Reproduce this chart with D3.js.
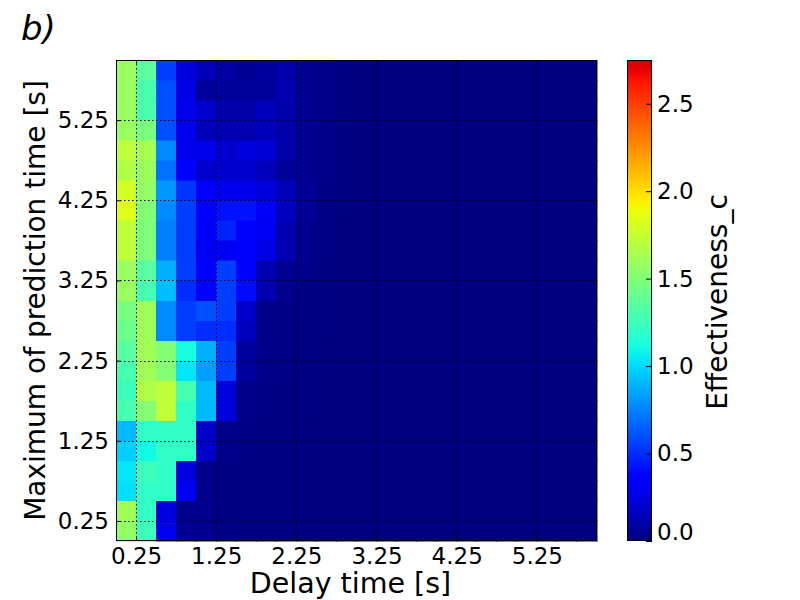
<!DOCTYPE html>
<html>
<head>
<meta charset="utf-8">
<script src="https://cdn.jsdelivr.net/npm/d3@7"></script>
<style>
  html, body { margin: 0; padding: 0; background: #fff; }
  svg { display: block; font-family: "DejaVu Sans", sans-serif; }
</style>
</head>
<body>
<svg id="chart" width="800" height="600"></svg>
<script>
// ---- data ----
const delayTimes = [0.00,0.25,0.50,0.75,1.00,1.25,1.50,1.75,2.00,2.25,2.50,2.75,3.00,3.25,3.50,3.75,4.00,4.25,4.50,4.75,5.00,5.25,5.50,5.75];
const predTimes  = [0.00,0.25,0.50,0.75,1.00,1.25,1.50,1.75,2.00,2.25,2.50,2.75,3.00,3.25,3.50,3.75,4.00,4.25,4.50,4.75,5.00,5.25,5.50,5.75];
const xTickValues = [0.25,1.25,2.25,3.25,4.25,5.25];
const yTickValues = [0.25,1.25,2.25,3.25,4.25,5.25];
const cbarTickValues = [0.0,0.5,1.0,1.5,2.0,2.5];

// Effectiveness_c, one array per prediction-time bin (bottom to top), one value per delay-time bin
const pred_0_00 = [1.56,1.26,0.29,0.05,0.04,0.02,0.01,0.01,0.01,0.00,0.00,0.00,0.00,0.00,0.00,0.00,0.00,0.00,0.00,0.00,0.00,0.00,0.00,0.00];
const pred_0_25 = [1.61,1.21,0.24,0.03,0.04,0.02,0.01,0.01,0.01,0.00,0.00,0.00,0.00,0.00,0.00,0.00,0.00,0.00,0.00,0.00,0.00,0.00,0.00,0.00];
const pred_0_50 = [1.02,1.21,1.21,0.29,0.03,0.02,0.01,0.01,0.01,0.00,0.00,0.00,0.00,0.00,0.00,0.00,0.00,0.00,0.00,0.00,0.00,0.00,0.00,0.00];
const pred_0_75 = [1.04,1.26,1.21,0.24,0.03,0.02,0.01,0.01,0.01,0.00,0.00,0.00,0.00,0.00,0.00,0.00,0.00,0.00,0.00,0.00,0.00,0.00,0.00,0.00];
const pred_1_00 = [0.97,1.10,1.21,1.21,0.19,0.03,0.02,0.01,0.01,0.00,0.00,0.00,0.00,0.00,0.00,0.00,0.00,0.00,0.00,0.00,0.00,0.00,0.00,0.00];
const pred_1_25 = [0.91,1.21,1.21,1.21,0.19,0.03,0.02,0.01,0.01,0.00,0.00,0.00,0.00,0.00,0.00,0.00,0.00,0.00,0.00,0.00,0.00,0.00,0.00,0.00];
const pred_1_50 = [1.29,1.51,1.72,1.21,0.91,0.24,0.03,0.02,0.01,0.01,0.00,0.00,0.00,0.00,0.00,0.00,0.00,0.00,0.00,0.00,0.00,0.00,0.00,0.00];
const pred_1_75 = [1.24,1.67,1.72,1.29,0.91,0.24,0.03,0.02,0.01,0.01,0.00,0.00,0.00,0.00,0.00,0.00,0.00,0.00,0.00,0.00,0.00,0.00,0.00,0.00];
const pred_2_00 = [1.29,1.61,1.51,1.04,0.83,0.55,0.08,0.03,0.02,0.01,0.00,0.00,0.00,0.00,0.00,0.00,0.00,0.00,0.00,0.00,0.00,0.00,0.00,0.00];
const pred_2_25 = [1.35,1.61,1.51,1.12,0.88,0.55,0.08,0.03,0.02,0.01,0.00,0.00,0.00,0.00,0.00,0.00,0.00,0.00,0.00,0.00,0.00,0.00,0.00,0.00];
const pred_2_50 = [1.42,1.61,0.77,0.55,0.50,0.50,0.16,0.03,0.02,0.01,0.01,0.00,0.00,0.00,0.00,0.00,0.00,0.00,0.00,0.00,0.00,0.00,0.00,0.00];
const pred_2_75 = [1.47,1.61,0.77,0.55,0.60,0.55,0.19,0.03,0.02,0.02,0.01,0.00,0.00,0.00,0.00,0.00,0.00,0.00,0.00,0.00,0.00,0.00,0.00,0.00];
const pred_3_00 = [1.59,1.29,0.92,0.50,0.34,0.55,0.40,0.13,0.04,0.02,0.01,0.00,0.00,0.00,0.00,0.00,0.00,0.00,0.00,0.00,0.00,0.00,0.00,0.00];
const pred_3_25 = [1.59,1.35,0.88,0.55,0.34,0.55,0.36,0.13,0.05,0.03,0.01,0.00,0.00,0.00,0.00,0.00,0.00,0.00,0.00,0.00,0.00,0.00,0.00,0.00];
const pred_3_50 = [1.72,1.49,0.74,0.55,0.30,0.30,0.36,0.26,0.13,0.04,0.02,0.00,0.00,0.00,0.00,0.00,0.00,0.00,0.00,0.00,0.00,0.00,0.00,0.00];
const pred_3_75 = [1.72,1.49,0.74,0.55,0.36,0.47,0.36,0.30,0.13,0.04,0.02,0.00,0.00,0.00,0.00,0.00,0.00,0.00,0.00,0.00,0.00,0.00,0.00,0.00];
const pred_4_00 = [1.83,1.51,0.77,0.55,0.36,0.42,0.42,0.32,0.16,0.06,0.02,0.01,0.00,0.00,0.00,0.00,0.00,0.00,0.00,0.00,0.00,0.00,0.00,0.00];
const pred_4_25 = [1.80,1.56,0.81,0.52,0.36,0.28,0.28,0.24,0.15,0.06,0.02,0.01,0.00,0.00,0.00,0.00,0.00,0.00,0.00,0.00,0.00,0.00,0.00,0.00];
const pred_4_50 = [1.67,1.59,0.70,0.34,0.20,0.20,0.20,0.15,0.07,0.05,0.03,0.01,0.00,0.00,0.00,0.00,0.00,0.00,0.00,0.00,0.00,0.00,0.00,0.00];
const pred_4_75 = [1.72,1.64,0.77,0.28,0.28,0.20,0.24,0.22,0.11,0.05,0.03,0.01,0.00,0.00,0.00,0.00,0.00,0.00,0.00,0.00,0.00,0.00,0.00,0.00];
const pred_5_00 = [1.59,1.47,0.60,0.28,0.15,0.13,0.13,0.15,0.11,0.05,0.03,0.01,0.00,0.00,0.00,0.00,0.00,0.00,0.00,0.00,0.00,0.00,0.00,0.00];
const pred_5_25 = [1.59,1.30,0.60,0.28,0.20,0.11,0.11,0.15,0.11,0.05,0.03,0.01,0.00,0.00,0.00,0.00,0.00,0.00,0.00,0.00,0.00,0.00,0.00,0.00];
const pred_5_50 = [1.59,1.30,0.60,0.26,0.07,0.07,0.07,0.07,0.13,0.05,0.03,0.01,0.00,0.00,0.00,0.00,0.00,0.00,0.00,0.00,0.00,0.00,0.00,0.00];
const pred_5_75 = [1.59,1.36,0.55,0.24,0.15,0.09,0.06,0.08,0.11,0.05,0.03,0.01,0.00,0.00,0.00,0.00,0.00,0.00,0.00,0.00,0.00,0.00,0.00,0.00];

const effectivenessRows = [pred_0_00,pred_0_25,pred_0_50,pred_0_75,pred_1_00,pred_1_25,pred_1_50,pred_1_75,
  pred_2_00,pred_2_25,pred_2_50,pred_2_75,pred_3_00,pred_3_25,pred_3_50,pred_3_75,
  pred_4_00,pred_4_25,pred_4_50,pred_4_75,pred_5_00,pred_5_25,pred_5_50,pred_5_75];

const binWidth = 0.25;
const colorNormMax = 2.96;   // norm max of the colour map
const colorbarMax = 2.75;    // visible top of the colour bar

// ---- jet colour map ----
function seg(t, pts) {
  for (let i = 1; i < pts.length; i++) {
    if (t <= pts[i][0]) {
      const [t0, v0] = pts[i-1], [t1, v1] = pts[i];
      return v0 + (v1 - v0) * (t - t0) / (t1 - t0);
    }
  }
  return pts[pts.length-1][1];
}
const R = [[0,0],[0.35,0],[0.66,1],[0.89,1],[1,0.5]];
const G = [[0,0],[0.125,0],[0.375,1],[0.64,1],[0.91,0],[1,0]];
const B = [[0,0.5],[0.11,1],[0.34,1],[0.65,0],[1,0]];
function jet(t) {
  t = Math.max(0, Math.min(1, t));
  return d3.rgb(255*seg(t,R), 255*seg(t,G), 255*seg(t,B)).formatHex();
}
const color = v => jet(v / colorNormMax);

// ---- layout ----
const svg = d3.select("#chart");
const plotL = 116, plotR = 597, plotT = 60, plotB = 541;
const tickFont = 23;
const x = d3.scaleLinear().domain([0, 6]).range([plotL, plotR]);
const y = d3.scaleLinear().domain([0, 6]).range([plotB, plotT]);

// cells
const cells = [];
effectivenessRows.forEach((row, j) => row.forEach((v, i) => cells.push({dx: delayTimes[i], py: predTimes[j], v})));
svg.append("g").attr("shape-rendering", "crispEdges")
  .selectAll("rect").data(cells).join("rect")
  .attr("x", d => x(d.dx))
  .attr("y", d => y(d.py + binWidth))
  .attr("width", d => x(d.dx + binWidth) - x(d.dx))
  .attr("height", d => y(d.py) - y(d.py + binWidth))
  .attr("fill", d => color(d.v))
  .attr("stroke", d => color(d.v)).attr("stroke-width", 0.5);

// grid
const grid = svg.append("g").attr("stroke", "#000").attr("stroke-width", 1).attr("stroke-dasharray", "1.5,2.5");
grid.selectAll(".gx").data(xTickValues).join("line")
  .attr("x1", d => Math.round(x(d)) + 0.5).attr("x2", d => Math.round(x(d)) + 0.5)
  .attr("y1", plotT).attr("y2", plotB);
grid.selectAll(".gy").data(yTickValues).join("line")
  .attr("y1", d => Math.round(y(d)) + 0.5).attr("y2", d => Math.round(y(d)) + 0.5)
  .attr("x1", plotL).attr("x2", plotR);

// axes
const fmt2 = d => d.toFixed(2);
const styleAxis = g => {
  g.select(".domain").remove();
  g.selectAll(".tick line").attr("stroke", "#000").attr("stroke-width", 1);
  g.selectAll(".tick text").attr("fill", "#000").attr("font-size", tickFont).attr("font-family", "DejaVu Sans");
};
svg.append("g").attr("transform", `translate(0,${plotB})`)
  .call(d3.axisBottom(x).tickValues(xTickValues).tickFormat(fmt2).tickSize(-5).tickPadding(7)).call(styleAxis);
svg.append("g").attr("transform", `translate(0,${plotT})`)
  .call(d3.axisTop(x).tickValues(xTickValues).tickFormat("").tickSize(-5)).call(styleAxis);
svg.append("g").attr("transform", `translate(${plotL},0)`)
  .call(d3.axisLeft(y).tickValues(yTickValues).tickFormat(fmt2).tickSize(-5).tickPadding(7)).call(styleAxis);
svg.append("g").attr("transform", `translate(${plotR},0)`)
  .call(d3.axisRight(y).tickValues(yTickValues).tickFormat("").tickSize(-5)).call(styleAxis);

// frame
svg.append("rect").attr("x", plotL + 0.5).attr("y", plotT + 0.5)
  .attr("width", plotR - plotL - 1).attr("height", plotB - plotT - 1)
  .attr("fill", "none").attr("stroke", "#000").attr("stroke-width", 1);

// axis labels
svg.append("text").attr("x", (plotL + plotR) / 2 - 6).attr("y", 593)
  .attr("text-anchor", "middle").attr("font-size", 28.5).text("Delay time [s]");
svg.append("text").attr("transform", `translate(45,${(plotT + plotB) / 2}) rotate(-90)`)
  .attr("text-anchor", "middle").attr("font-size", 28).text("Maximum of prediction time [s]");

// title
svg.append("text").attr("x", 21).attr("y", 40).attr("font-size", 34)
  .attr("font-style", "italic").text("b)");

// colour bar
const cbL = 627, cbR = 652;
const c = d3.scaleLinear().domain([0, colorbarMax]).range([plotB, plotT]);
const defs = svg.append("defs");
const grad = defs.append("linearGradient").attr("id", "cbgrad")
  .attr("x1", 0).attr("y1", 1).attr("x2", 0).attr("y2", 0);
const stops = d3.range(0, 101).map(i => i / 100);
grad.selectAll("stop").data(stops).join("stop")
  .attr("offset", d => d).attr("stop-color", d => color(d * colorbarMax));
svg.append("rect").attr("x", cbL).attr("y", plotT).attr("width", cbR - cbL).attr("height", plotB - plotT)
  .attr("fill", "url(#cbgrad)");
svg.append("g").attr("transform", `translate(${cbR},0)`)
  .call(d3.axisRight(c).tickValues(cbarTickValues).tickFormat(d => d.toFixed(1)).tickSize(0).tickPadding(5))
  .call(g => {
    g.select(".domain").remove();
    g.selectAll(".tick text").attr("fill", "#000").attr("font-size", tickFont).attr("font-family", "DejaVu Sans")
      .attr("dy", d => d === 0 ? "-0.05em" : "0.32em");
    g.selectAll(".tick").append("line").attr("x1", -6).attr("x2", 0).attr("stroke", "#000");
  });
svg.append("rect").attr("x", cbL + 0.5).attr("y", plotT + 0.5).attr("width", cbR - cbL - 1).attr("height", plotB - plotT - 1)
  .attr("fill", "none").attr("stroke", "#000").attr("stroke-width", 1);
svg.append("text").attr("transform", `translate(727,302) rotate(-90)`)
  .attr("text-anchor", "middle").attr("font-size", 28).text("Effectiveness_c");
</script>
</body>
</html>
